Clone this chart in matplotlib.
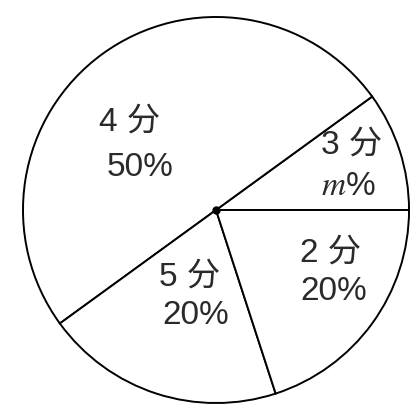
import matplotlib
matplotlib.use("Agg")
import matplotlib.pyplot as plt

# data: scores and their share (m% = 10%)
scores = ["3 分", "4 分", "5 分", "2 分"]
shares = [10, 50, 20, 20]
share_labels = ["$m$%", "50%", "20%", "20%"]

# label layout (data coords, unit circle): score line and percent line
score_pos = [(0.705, 0.337), (-0.446, 0.456), (-0.135, -0.347), (0.591, -0.223)]
pct_pos = [(0.684, 0.124), (-0.394, 0.218), (-0.104, -0.549), (0.611, -0.42)]

plt.rcParams["mathtext.fontset"] = "stix"
FONT = ["Liberation Sans", "Noto Sans CJK SC", "DejaVu Sans"]
TEXT_COLOR = "#2a2a2a"

fig = plt.figure(figsize=(4.17, 4.17), dpi=100)
lim = 1.05
ax = fig.add_axes([0.032, 0.0104, 0.972, 0.972])
ax.set_aspect("equal")
ax.axis("off")

ax.pie(shares, startangle=0, counterclock=True, radius=1.0,
       colors=["white"] * len(shares),
       wedgeprops=dict(edgecolor="black", linewidth=1.4))
ax.set_xlim(-lim, lim)
ax.set_ylim(-lim, lim)

ax.plot([0], [0], "o", color="black", markersize=5)

for name, (x, y) in zip(scores, score_pos):
    ax.text(x, y, name, ha="center", va="center", fontsize=24,
            family=FONT, color=TEXT_COLOR)
for lab, (x, y) in zip(share_labels, pct_pos):
    ax.text(x, y, lab, ha="center", va="center", fontsize=24,
            family=FONT, color=TEXT_COLOR)

fig.savefig("out.png", dpi=100, facecolor="white")
